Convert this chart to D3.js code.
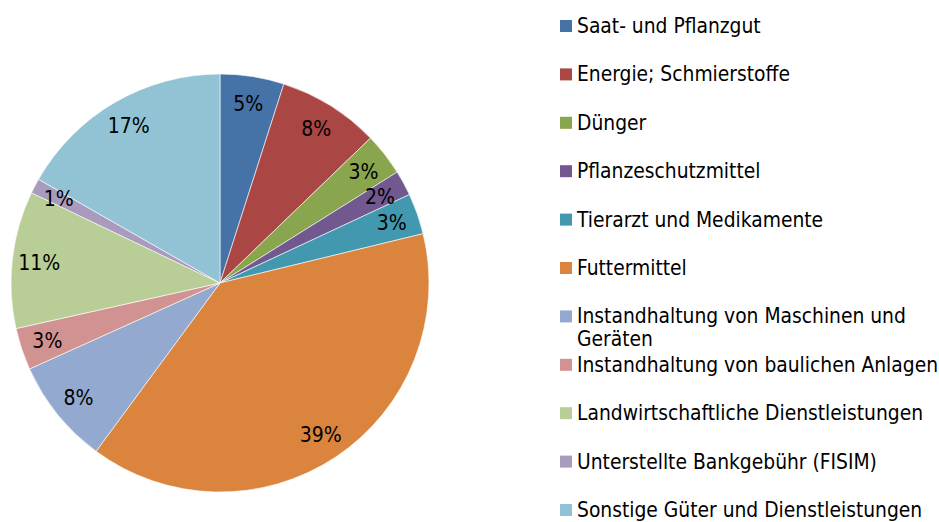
<!DOCTYPE html>
<html>
<head>
<meta charset="utf-8">
<script src="https://cdn.jsdelivr.net/npm/d3@7"></script>
<style>
  body { margin: 0; background: #fff; }
  text { font-family: "DejaVu Sans", Verdana, sans-serif; fill: #000; }
</style>
</head>
<body>
<script>
// categories + shares (percent)
var categories = [
  "Saat- und Pflanzgut",
  "Energie; Schmierstoffe",
  "Dünger",
  "Pflanzeschutzmittel",
  "Tierarzt und Medikamente",
  "Futtermittel",
  ["Instandhaltung von Maschinen und", "Geräten"],
  "Instandhaltung von baulichen Anlagen",
  "Landwirtschaftliche Dienstleistungen",
  "Unterstellte Bankgebühr (FISIM)",
  "Sonstige Güter und Dienstleistungen"
];
var values = [4.94, 7.86, 3.3, 1.95, 3.16, 38.9, 8.15, 3.25, 10.6, 1.16, 16.74];
var colors = ["#4572A7", "#AA4643", "#89A54E", "#71588F", "#4198AF", "#DB843D",
              "#93A9CF", "#D19392", "#B9CD96", "#A99BBD", "#92C3D4"];

var width = 939, height = 522;
var cx = 220, cy = 283, radius = 209;

var svg = d3.select("body").append("svg")
    .attr("width", width)
    .attr("height", height);

var total = d3.sum(values);
var data = values.map(function(v, i) { return {name: categories[i], value: v, i: i}; });

var pie = d3.pie().sort(null).value(function(d) { return d.value; });
var arc = d3.arc().innerRadius(0).outerRadius(radius);
var labelArc = d3.arc().innerRadius(182).outerRadius(182);

var g = svg.append("g").attr("transform", "translate(" + cx + "," + cy + ")");

var arcs = pie(data);

g.selectAll("path")
    .data(arcs)
  .enter().append("path")
    .attr("d", arc)
    .attr("fill", function(d) { return colors[d.data.i]; })
    .attr("stroke", "#fff")
    .attr("stroke-width", 0.6);

g.selectAll("text.pct")
    .data(arcs)
  .enter().append("text")
    .attr("class", "pct")
    .attr("transform", function(d) { return "translate(" + labelArc.centroid(d) + ")"; })
    .attr("text-anchor", "middle")
    .attr("dy", "0.36em")
    .style("font-size", "21px")
    .style("font-stretch", "condensed")
    .text(function(d) { return Math.round(d.data.value / total * 100) + "%"; });

// legend
var ly = d3.scaleLinear().domain([0, categories.length - 1]).range([26, 510]);

var leg = svg.selectAll("g.leg")
    .data(data)
  .enter().append("g")
    .attr("class", "leg")
    .attr("transform", function(d) { return "translate(560," + ly(d.i) + ")"; });

leg.append("rect")
    .attr("x", 0)
    .attr("y", -6)
    .attr("width", 12)
    .attr("height", 12)
    .attr("fill", function(d) { return colors[d.i]; });

leg.append("text")
    .attr("x", 17)
    .attr("y", 7)
    .style("font-size", "20.8px")
    .style("font-stretch", "condensed")
    .each(function(d) {
      var lines = Array.isArray(d.name) ? d.name : [d.name];
      var t = d3.select(this);
      lines.forEach(function(l, k) {
        t.append("tspan").attr("x", 17).attr("dy", k === 0 ? 0 : 23).text(l);
      });
    });
</script>
</body>
</html>
